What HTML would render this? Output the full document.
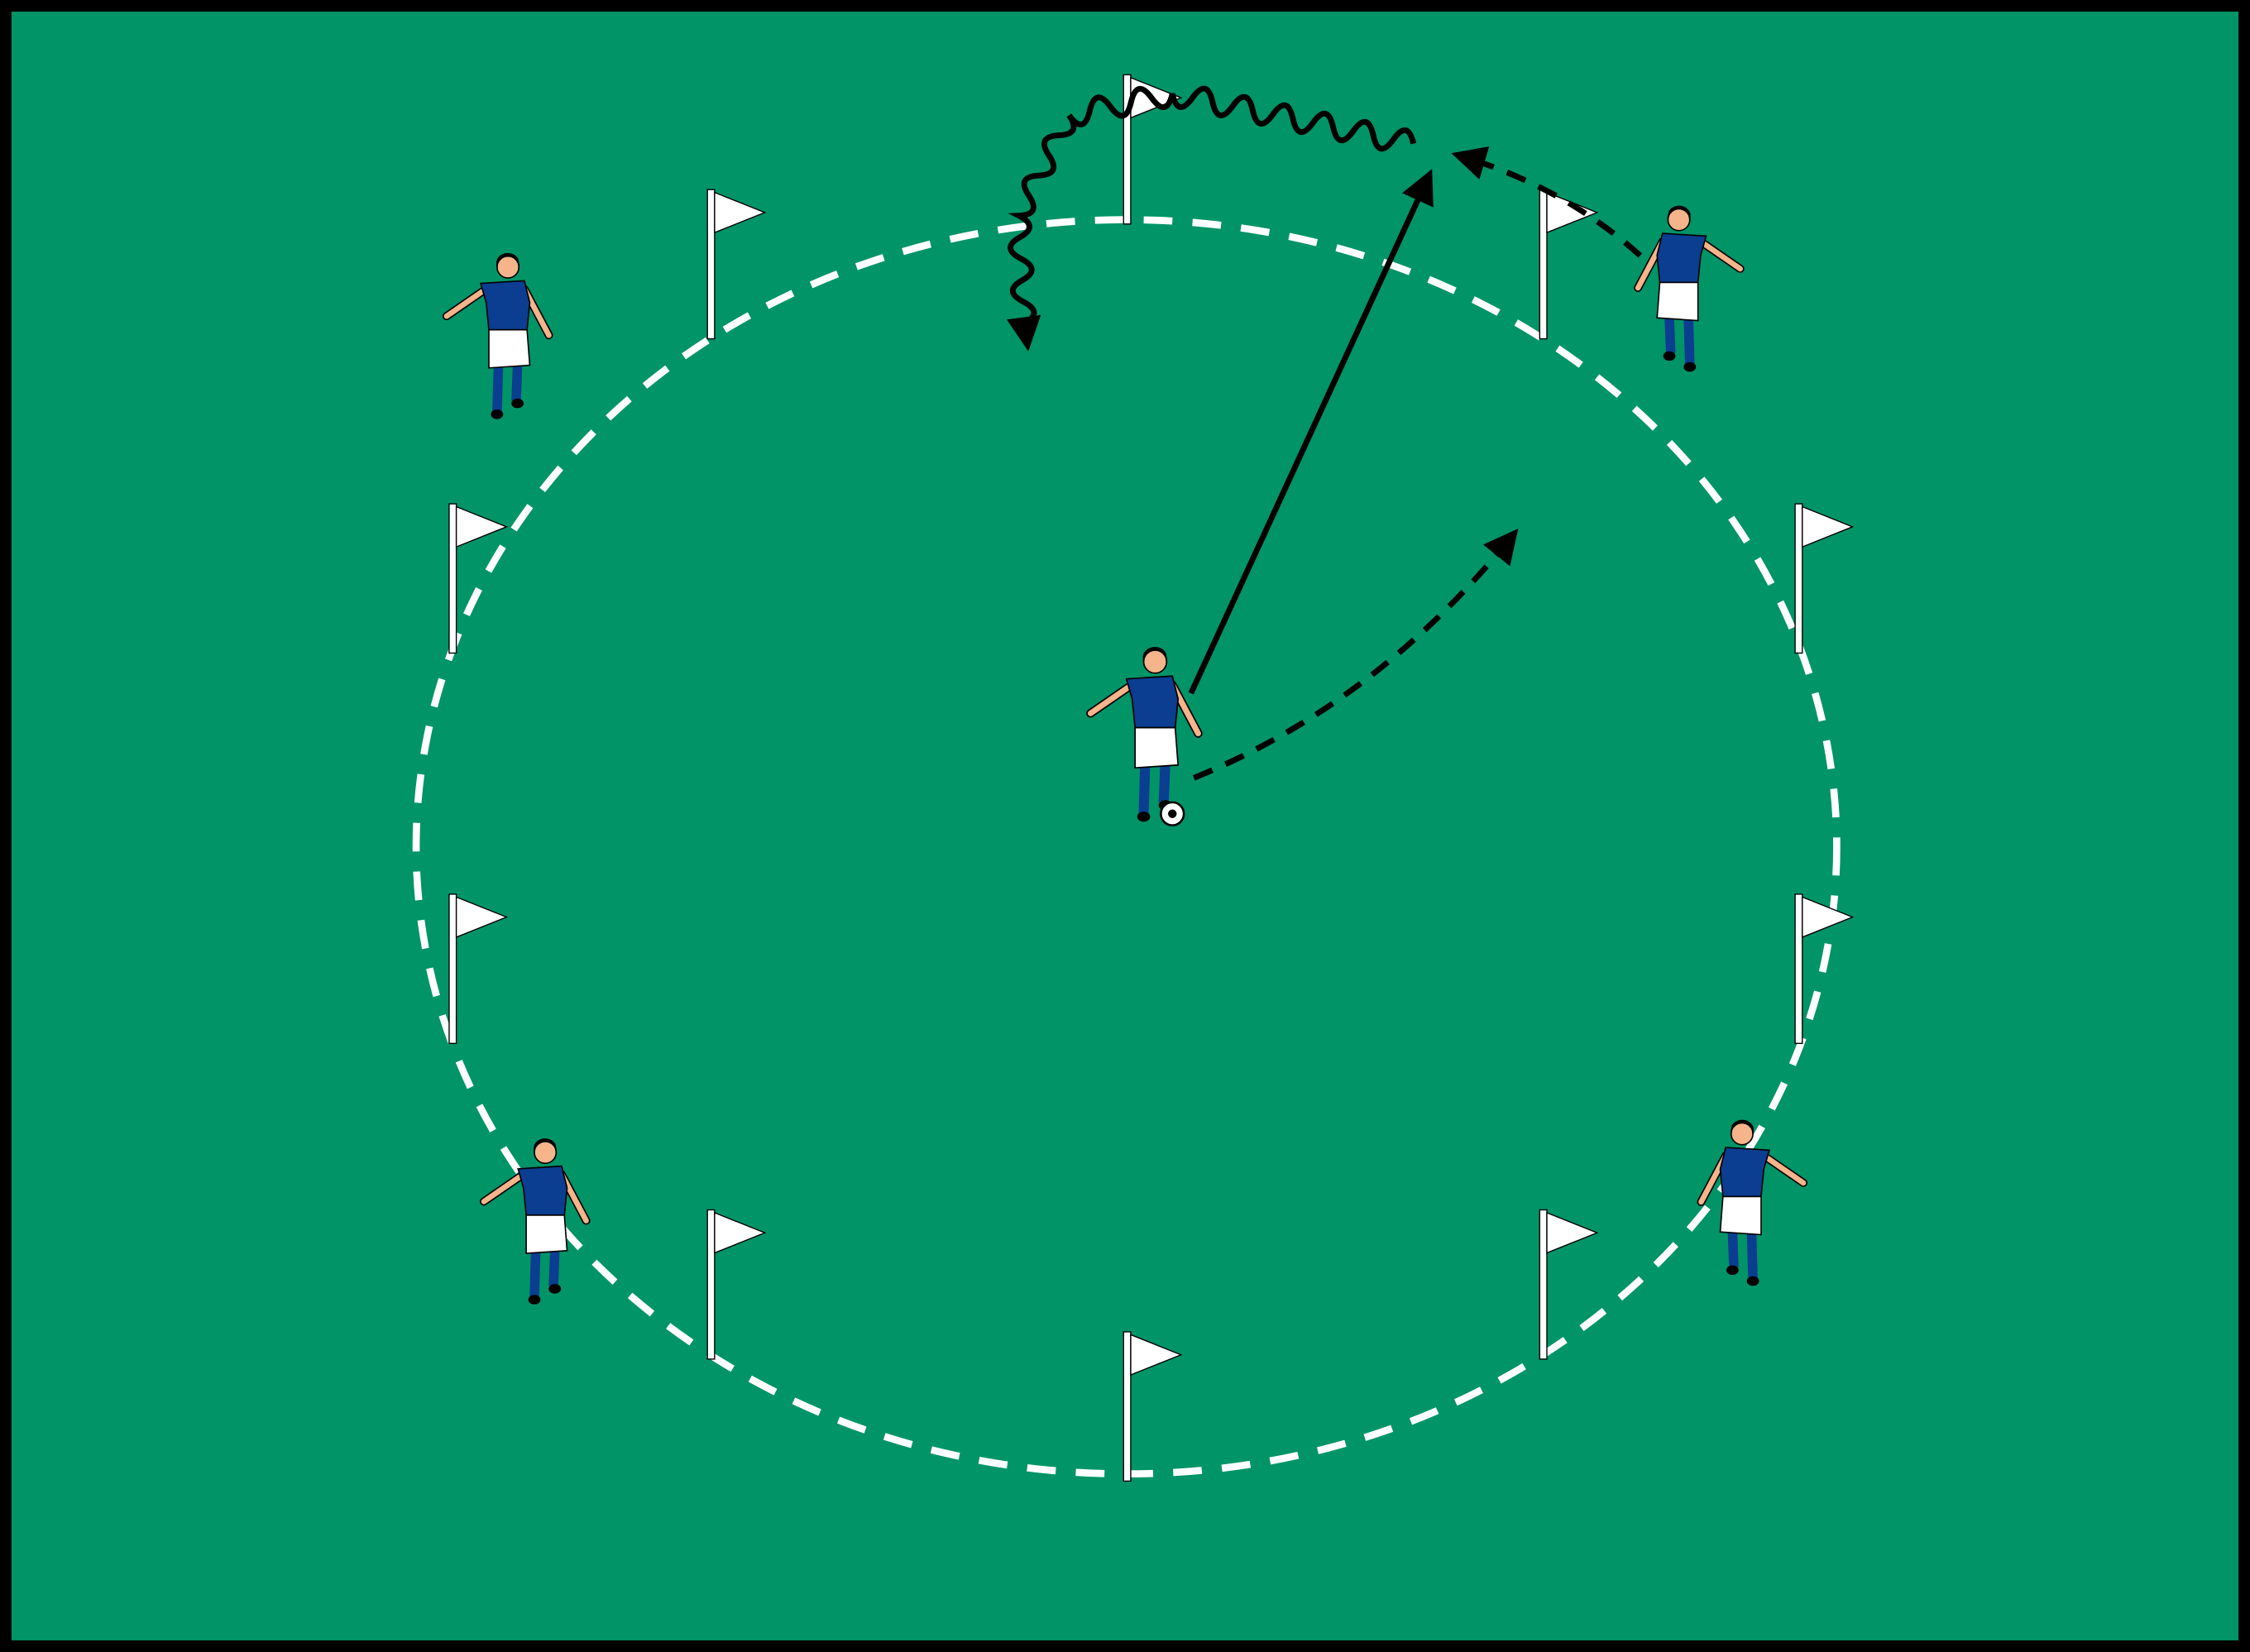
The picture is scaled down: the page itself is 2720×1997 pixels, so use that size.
<!DOCTYPE html>
<html><head><meta charset="utf-8"><style>html,body{margin:0;padding:0;background:#000}svg{display:block}</style></head>
<body>
<svg width="2720" height="1997" viewBox="0 0 1568 1151" xmlns="http://www.w3.org/2000/svg">
<defs>
<marker id="ah" viewBox="0 0 10 10" refX="8" refY="5" markerWidth="6" markerHeight="6" markerUnits="strokeWidth" orient="auto"><path d="M0,0 L10,5 L0,10 z" fill="#000"/></marker>
<g id="flag"><rect x="-2" y="0" width="5" height="104" fill="#fff" stroke="#000" stroke-width="0.8"/><path d="M3,2 L38,16 L3,30 z" fill="#fff" stroke="#000" stroke-width="0.8"/></g>
<g id="pl" stroke="#000" stroke-width="1">
<line x1="-16" y1="16" x2="-45" y2="36" stroke="#000" stroke-width="6" stroke-linecap="round"/>
<line x1="-16" y1="16" x2="-45" y2="36" stroke="#f5b48a" stroke-width="4" stroke-linecap="round"/>
<line x1="12" y1="16" x2="30" y2="50" stroke="#000" stroke-width="6" stroke-linecap="round"/>
<line x1="12" y1="16" x2="30" y2="50" stroke="#f5b48a" stroke-width="4" stroke-linecap="round"/>
<line x1="-7" y1="72" x2="-8" y2="106" stroke="#0b3d91" stroke-width="7"/>
<line x1="7" y1="72" x2="6" y2="98" stroke="#0b3d91" stroke-width="7"/>
<ellipse cx="-8" cy="108" rx="4" ry="3" fill="#000"/>
<ellipse cx="7" cy="100" rx="4" ry="3" fill="#000"/>
<path d="M-20,12 L12,10 L16,26 L14,46 L-14,46 L-16,26 z" fill="#0b3d91"/>
<path d="M-14,46 L14,46 L16,72 L-14,74 z" fill="#fff"/>
<circle cx="0" cy="0" r="8" fill="#f5b48a"/>
<path d="M-8,0 A8,8 0 0 1 8,-1 L7,-6 A8,7 0 0 0 -8,-4 z" fill="#111"/>
</g>
</defs>
<rect x="0" y="0" width="1568" height="1151" fill="#000"/>
<rect x="8" y="8" width="1552" height="1135" fill="#009467"/>
<ellipse cx="785" cy="590" rx="495" ry="437" fill="none" stroke="#fff" stroke-width="5" stroke-dasharray="20,14"/>
<use href="#flag" x="785" y="52"/>
<use href="#flag" x="495" y="132"/>
<use href="#flag" x="1075" y="132"/>
<use href="#flag" x="315" y="351"/>
<use href="#flag" x="1253" y="351"/>
<use href="#flag" x="315" y="623"/>
<use href="#flag" x="1253" y="623"/>
<use href="#flag" x="495" y="843"/>
<use href="#flag" x="1075" y="843"/>
<use href="#flag" x="785" y="928"/>
<use href="#pl" transform="translate(805,461)"/>
<circle cx="817" cy="567" r="8" fill="#fff" stroke="#000" stroke-width="1.5"/>
<circle cx="817" cy="567" r="3" fill="#000"/>
<use href="#pl" transform="translate(354,186) scale(0.95)"/>
<use href="#pl" transform="translate(1170,153) scale(-0.95,0.95)"/>
<use href="#pl" transform="translate(380,803) scale(0.95)"/>
<use href="#pl" transform="translate(1214,790) scale(-0.95,0.95)"/>
<line x1="830" y1="483" x2="996" y2="122" stroke="#000" stroke-width="4" marker-end="url(#ah)"/>
<path d="M832,542 Q960,490 1055,372" fill="none" stroke="#000" stroke-width="4" stroke-dasharray="14,10" marker-end="url(#ah)"/>
<path d="M1143,178 Q1090,130 1016,108" fill="none" stroke="#000" stroke-width="4" stroke-dasharray="14,10" marker-end="url(#ah)"/>
<path d="M985,100
q-3.8,-17.2 -14,-2.9 q-10.2,14.2 -14,-2.9 q-3.8,-17.2 -14,-2.9 q-10.2,14.2 -14,-2.9
q-3.8,-17.2 -14,-2.9 q-10.2,14.2 -14,-2.9 q-3.8,-17.2 -14,-2.9 q-10.2,14.2 -14,-2.9
q-3.8,-17.2 -14,-2.9 q-10.2,14.2 -14,-2.9 q-3.8,-17.2 -14,-2.9 q-10.2,14.2 -14,-2.9
q-4,17.2 -14.4,3 q-10.4,-14.2 -14.4,3 q-4,17.2 -14.4,3 q-10.4,-14.2 -14.4,3 q-4,17.2 -14.4,3
q9,13.3 -7,14 q-16,0.7 -7,14 q9,13.3 -7,14 q-16,0.7 -7,14 q9,13.3 -7,14
q14.4,7.5 0.8,15 q-13.6,7.5 0.8,15 q14.4,7.5 0.8,15 q-13.6,7.5 0.8,15 q14.4,7.5 0.8,15"
fill="none" stroke="#000" stroke-width="4"/>
<line x1="714" y1="225" x2="716" y2="240" stroke="#000" stroke-width="4" marker-end="url(#ah)"/>
</svg>
</body></html>
